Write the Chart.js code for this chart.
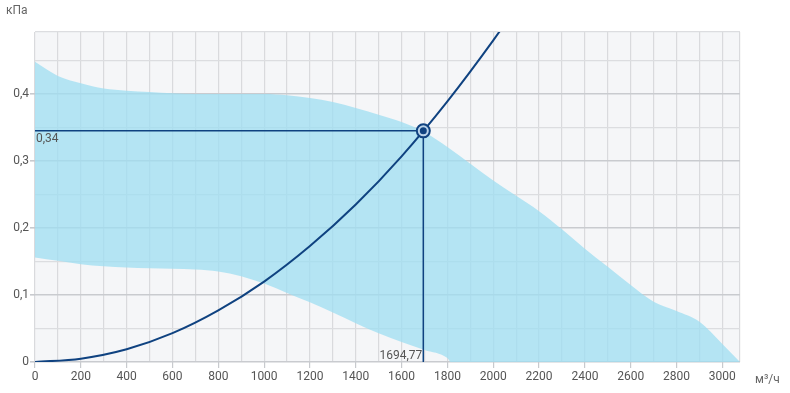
<!DOCTYPE html>
<html>
<head>
<meta charset="utf-8">
<script src="https://cdn.jsdelivr.net/npm/chart.js@4"></script>
<style>
  html, body { margin: 0; padding: 0; background: #fff; }
  #wrap { width: 790px; height: 393px; position: relative; }
</style>
</head>
<body>
<div id="wrap"><canvas id="fanChart"></canvas></div>
<script>
// Fan working range, upper boundary (м³/ч, кПа)
const upperX = [0, 100, 200, 300, 400, 500, 600, 700, 800, 900, 1000, 1100, 1200, 1300, 1400, 1500, 1600, 1700, 1800, 1900, 2000, 2100, 2200, 2300, 2400, 2500, 2600, 2700, 2800, 2900, 3000, 3077];
const upperY = [0.448, 0.427, 0.416, 0.408, 0.405, 0.403, 0.401, 0.400, 0.400, 0.400, 0.400, 0.398, 0.394, 0.388, 0.379, 0.369, 0.358, 0.343, 0.321, 0.296, 0.271, 0.248, 0.225, 0.198, 0.169, 0.142, 0.115, 0.090, 0.076, 0.060, 0.027, 0];

// Fan working range, lower boundary
const lowerX = [0, 100, 200, 300, 400, 500, 600, 700, 800, 900, 1000, 1100, 1200, 1300, 1400, 1500, 1600, 1700, 1800, 1815, 3077];
const lowerY = [0.156, 0.151, 0.146, 0.143, 0.141, 0.140, 0.139, 0.138, 0.135, 0.128, 0.117, 0.103, 0.089, 0.074, 0.058, 0.043, 0.030, 0.018, 0.006, 0, 0];

// System (network) curve
const systemX = [0, 200, 400, 600, 800, 1000, 1200, 1400, 1600, 1800, 2000, 2100];
const systemY = [0, 0.005, 0.019, 0.043, 0.077, 0.120, 0.173, 0.235, 0.307, 0.389, 0.480, 0.529];

// Operating point
const opX = 1694.77;
const opY = 0.345;
const opLabels = ['0,34', '1694,77'];

// Axes
const xMax = 3077;
const yMax = 0.4925;
const xStep = 100, xLabelStep = 200;
const yStep = 0.05, yLabelStep = 0.1;
const axisTitles = ['кПа', 'м³/ч'];

const lineColor = '#0f4280';
const textColor = '#555';
const font = { family: 'Roboto', size: 12 };

const toPoints = (xs, ys) => xs.map((x, i) => ({ x: x, y: ys[i] }));

const isMultiple = (v, step) => Math.abs(v / step - Math.round(v / step)) < 1e-6;

const plotBackground = {
    id: 'plotBackground',
    beforeDraw(chart) {
        const a = chart.chartArea;
        const ctx = chart.ctx;
        ctx.save();
        ctx.fillStyle = '#f5f6f8';
        ctx.fillRect(a.left, a.top, a.right - a.left, a.bottom - a.top);
        ctx.restore();
    }
};

const annotations = {
    id: 'annotations',
    afterDraw(chart) {
        const ctx = chart.ctx;
        const x = chart.scales.x, y = chart.scales.y;
        ctx.save();
        ctx.font = '12px Roboto';
        ctx.fillStyle = textColor;
        // operating point values
        ctx.textAlign = 'left';
        ctx.textBaseline = 'top';
        ctx.fillText(opLabels[0], x.left + 1, y.getPixelForValue(opY) + 2);
        ctx.textAlign = 'right';
        ctx.textBaseline = 'bottom';
        ctx.fillText(opLabels[1], x.getPixelForValue(opX) - 1, y.bottom);
        // axis titles
        ctx.fillStyle = '#666';
        ctx.textAlign = 'left';
        ctx.textBaseline = 'middle';
        ctx.fillText(axisTitles[0], 6, 11);
        ctx.fillText(axisTitles[1], 755, 380);
        ctx.restore();
    }
};

new Chart(document.getElementById('fanChart').getContext('2d'), {
    type: 'line',
    data: {
        datasets: [{
            label: 'upper',
            data: toPoints(upperX, upperY),
            borderWidth: 0,
            pointRadius: 0,
            cubicInterpolationMode: 'monotone',
            backgroundColor: 'rgba(157, 222, 241, 0.75)',
            fill: '+1',
            order: 10
        }, {
            label: 'lower',
            data: toPoints(lowerX, lowerY),
            borderWidth: 0,
            pointRadius: 0,
            cubicInterpolationMode: 'monotone',
            fill: false,
            order: 11
        }, {
            label: 'system',
            data: toPoints(systemX, systemY),
            borderColor: lineColor,
            borderWidth: 2,
            pointRadius: 0,
            cubicInterpolationMode: 'monotone',
            fill: false,
            order: 3
        }, {
            label: 'opH',
            data: [{ x: 0, y: opY }, { x: opX, y: opY }],
            borderColor: lineColor,
            borderWidth: 1.5,
            pointRadius: 0,
            fill: false,
            order: 4
        }, {
            label: 'opV',
            data: [{ x: opX, y: opY }, { x: opX, y: 0 }],
            borderColor: lineColor,
            borderWidth: 1.5,
            pointRadius: 0,
            fill: false,
            order: 4
        }, {
            label: 'opRing',
            data: [{ x: opX, y: opY }],
            showLine: false,
            pointRadius: 6.5,
            pointBorderWidth: 2,
            pointBorderColor: lineColor,
            pointBackgroundColor: '#b9d3ea',
            order: 2
        }, {
            label: 'opDot',
            data: [{ x: opX, y: opY }],
            showLine: false,
            pointRadius: 3.5,
            pointBorderWidth: 0,
            pointBackgroundColor: lineColor,
            order: 1
        }]
    },
    options: {
        responsive: true,
        maintainAspectRatio: false,
        animation: false,
        layout: {
            padding: { top: 32, right: 50, left: 0, bottom: 0 }
        },
        plugins: {
            legend: { display: false },
            tooltip: { enabled: false }
        },
        scales: {
            x: {
                type: 'linear',
                min: 0,
                max: xMax,
                border: { display: false },
                afterBuildTicks(scale) {
                    const ticks = [];
                    for (let v = 0; v <= xMax; v += xStep) ticks.push({ value: v });
                    ticks.push({ value: xMax });
                    scale.ticks = ticks;
                },
                afterFit(scale) { scale.height = 31; },
                grid: {
                    color: '#d9dadd',
                    lineWidth: 1.2,
                    tickLength: 6,
                    tickColor: ctx => (ctx.tick && isMultiple(ctx.tick.value, xLabelStep) ? '#c8cace' : 'rgba(0,0,0,0)')
                },
                ticks: {
                    autoSkip: false,
                    maxRotation: 0,
                    padding: 2,
                    color: textColor,
                    font: font,
                    callback: v => (isMultiple(v, xLabelStep) ? String(v) : '')
                }
            },
            y: {
                type: 'linear',
                min: 0,
                max: yMax,
                border: { display: false },
                afterBuildTicks(scale) {
                    const ticks = [];
                    for (let i = 0; i * yStep <= yMax; i++) ticks.push({ value: Math.round(i * yStep * 100) / 100 });
                    ticks.push({ value: yMax });
                    scale.ticks = ticks;
                },
                afterFit(scale) { scale.width = 35; },
                grid: {
                    color: ctx => (ctx.tick && isMultiple(ctx.tick.value, yLabelStep) ? '#c9cbcf' : '#dcdde0'),
                    lineWidth: ctx => (ctx.tick && isMultiple(ctx.tick.value, yLabelStep) ? 1.6 : 1.2),
                    tickLength: 5,
                    tickColor: ctx => (ctx.tick && isMultiple(ctx.tick.value, yLabelStep) ? '#c8cace' : 'rgba(0,0,0,0)')
                },
                ticks: {
                    autoSkip: false,
                    padding: 1,
                    color: textColor,
                    font: font,
                    callback: v => (isMultiple(v, yLabelStep) ? String(Math.round(v * 10) / 10).replace('.', ',') : '')
                }
            }
        }
    },
    plugins: [plotBackground, annotations]
});
</script>
</body>
</html>
